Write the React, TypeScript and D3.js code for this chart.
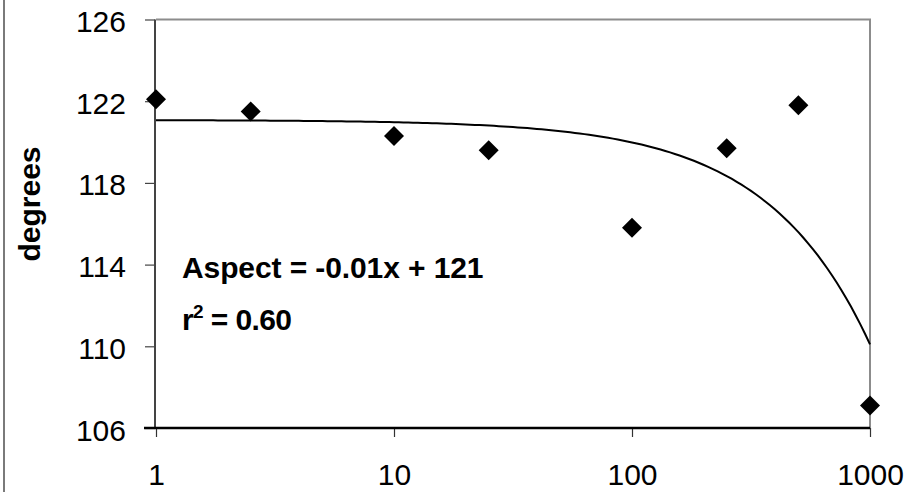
import { useEffect, useRef } from 'react'
import * as d3 from 'd3'

const distances = [1, 2.5, 10, 25, 100, 250, 500, 1000]
const aspectDeg = [122.1, 121.5, 120.3, 119.6, 115.8, 119.7, 121.8, 107.1]
const yTicks = [106, 110, 114, 118, 122, 126]
const xTicks = [1, 10, 100, 1000]

const FONT = '"Liberation Sans", Arial, sans-serif'

export default function App() {
  const svgRef = useRef<SVGSVGElement>(null)

  useEffect(() => {
    if (!svgRef.current) return
    const svg = d3.select(svgRef.current)
    svg.selectAll('*').remove()

    const W = 921, H = 492
    const m = { top: 19.5, right: 51, bottom: 64, left: 156 }
    svg.attr('width', W).attr('height', H)

    const x = d3.scaleLog().domain([1, 1000]).range([m.left, W - m.right])
    const y = d3.scaleLinear().domain([106, 126]).range([H - m.bottom, m.top])

    const [x0, x1] = x.range()
    const [yb, yt] = y.range()

    // outer chart frame (left edge only visible)
    svg.append('line').attr('x1', 4).attr('x2', 4).attr('y1', 0).attr('y2', H)
      .attr('stroke', '#7a7a7a').attr('stroke-width', 2)

    // plot frame top + right
    svg.append('path')
      .attr('d', `M${x0},${yt}H${x1}V${yb}`)
      .attr('fill', 'none').attr('stroke', '#8c8c8c').attr('stroke-width', 2)

    // y axis
    svg.append('g').attr('transform', `translate(${x0 - 1},0)`)
      .call(d3.axisLeft(y).tickValues(yTicks).tickSize(10).tickPadding(19).tickFormat(d3.format('d')))
      .call(ax => {
        ax.select('.domain').remove()
        ax.selectAll('line').attr('stroke', '#444').attr('stroke-width', 1.2)
        ax.selectAll('text').attr('fill', '#000').attr('font-size', 30)
          .attr('font-family', FONT).attr('dy', '0.4em')
      })
    svg.append('line').attr('x1', x0 - 1).attr('x2', x0 - 1).attr('y1', yt).attr('y2', yb)
      .attr('stroke', '#444').attr('stroke-width', 2)

    // x axis
    svg.append('g').attr('transform', `translate(0,${yb})`)
      .call(d3.axisBottom(x).tickValues(xTicks).tickSize(9).tickPadding(27).tickFormat(d3.format('d')))
      .call(ax => {
        ax.select('.domain').remove()
        ax.selectAll('line').attr('stroke', '#333').attr('stroke-width', 1.2)
        ax.selectAll('text').attr('fill', '#000').attr('font-size', 30)
          .attr('font-family', FONT)
      })
    svg.append('line').attr('x1', x0 - 12).attr('x2', x1).attr('y1', yb).attr('y2', yb)
      .attr('stroke', '#000').attr('stroke-width', 2.5)

    // linear trend (least squares on raw x), drawn over the log axis
    const mx = d3.mean(distances) as number
    const my = d3.mean(aspectDeg) as number
    let sxy = 0, sxx = 0
    distances.forEach((d, i) => { sxy += (d - mx) * (aspectDeg[i] - my); sxx += (d - mx) ** 2 })
    const slope = sxy / sxx
    const icpt = my - slope * mx
    const trendX = d3.range(0, 3.0001, 0.02).map(e => Math.pow(10, e))
    svg.append('path')
      .datum(trendX)
      .attr('d', d3.line<number>().x(d => x(d)).y(d => y(icpt + slope * d)))
      .attr('fill', 'none').attr('stroke', '#000').attr('stroke-width', 2)

    // diamonds
    const diamond = d3.symbol(d3.symbolSquare, 200)
    svg.append('g').selectAll('path').data(distances).join('path')
      .attr('d', diamond)
      .attr('transform', (d, i) => `translate(${x(d)},${y(aspectDeg[i])}) rotate(45)`)
      .attr('fill', '#000')

    // y label
    svg.append('text')
      .attr('transform', `translate(40,204) rotate(-90)`)
      .attr('text-anchor', 'middle')
      .attr('font-family', FONT).attr('font-weight', 'bold').attr('font-size', 30)
      .text('degrees')

    // equation
    svg.append('text').attr('x', 182).attr('y', 278)
      .attr('font-family', FONT).attr('font-weight', 'bold').attr('font-size', 30)
      .attr('letter-spacing', -0.1)
      .text('Aspect = -0.01x + 121')
    const r2 = svg.append('text').attr('x', 182).attr('y', 330)
      .attr('font-family', FONT).attr('font-weight', 'bold').attr('font-size', 30)
      .attr('letter-spacing', -0.6)
    r2.append('tspan').text('r')
    r2.append('tspan').attr('dy', -12).attr('font-size', 19).text('2')
    r2.append('tspan').attr('dy', 12).text(' = 0.60')
  }, [])

  return (
    <div style={{ position: 'fixed', left: 0, top: 0, background: '#fff' }}>
      <svg ref={svgRef} style={{ display: 'block' }} />
    </div>
  )
}
